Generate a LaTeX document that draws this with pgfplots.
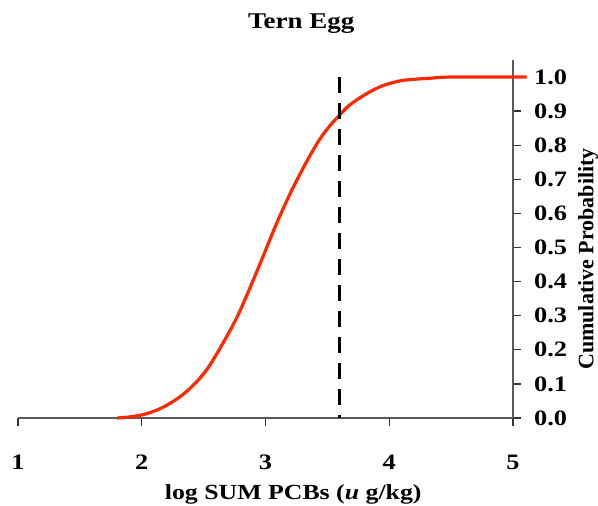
\documentclass[border=0pt]{standalone}
\usepackage{pgfplots}
\pgfplotsset{compat=1.18}
\usepackage{fontspec}
\setmainfont{Liberation Serif}[FakeStretch=1.2]
\newfontfamily\ylabfont{Liberation Serif}
\definecolor{cdfred}{RGB}{255,40,0}
\definecolor{axgray}{RGB}{90,90,90}
\begin{document}
\begin{tikzpicture}
\useasboundingbox (0,0) rectangle (598pt,506pt);
\begin{axis}[
  at={(18pt,88pt)}, anchor=south west,
  scale only axis, width=495pt, height=358pt,
  xmin=1, xmax=5, ymin=0, ymax=1.05,
  clip=false,
  axis x line*=bottom, axis y line*=right,
  axis line style={axgray, line width=1.3pt},
  every tick/.style={black!80, line width=1.3pt},
  major tick length=8pt,
  tick align=outside,
  xtick={1,2,3,4,5},
  ytick={0,0.1,0.2,0.3,0.4,0.5,0.6,0.7,0.8,0.9,1.0},
  /pgf/number format/assume math mode=true,
  xticklabel style={font=\fontsize{22}{26}\selectfont\bfseries, anchor=center, yshift=-36pt},
  yticklabel style={font=\fontsize{22}{26}\selectfont\bfseries, anchor=west, inner sep=0pt, xshift=13pt,
    /pgf/number format/fixed, /pgf/number format/fixed zerofill, /pgf/number format/precision=1},
  title={Tern Egg},
  title style={font=\fontsize{22.5}{26}\selectfont\bfseries, at={(axis description cs:0.572,1.086)}, anchor=center},
  xlabel={log SUM PCBs (\textit{u} g/kg)},
  xlabel style={font=\fontsize{21.5}{25}\selectfont\bfseries, at={(axis description cs:0.556,-0.214)}, anchor=center},
  ylabel={Cumulative Probability},
  ylabel style={font=\fontsize{22}{26}\ylabfont\bfseries, at={(axis description cs:1.152,0.444)}, anchor=center, rotate=0},
]
\addplot[cdfred, line width=3.2pt, smooth, tension=0.55] coordinates {
(1.8,0) (1.9,0.003) (2.0,0.009) (2.1,0.02) (2.2,0.037) (2.3,0.06) (2.39,0.087)
(2.47,0.117) (2.55,0.155) (2.66,0.222) (2.77,0.296) (2.87,0.378) (2.98,0.474)
(3.09,0.571) (3.20,0.659) (3.31,0.737) (3.39,0.789) (3.45,0.824) (3.52,0.857) (3.6,0.889) (3.68,0.918)
(3.82,0.952) (3.95,0.975) (4.09,0.989) (4.22,0.994) (4.35,0.997) (4.5,1.0) (5.11,1.0)
};
\addplot[black, line width=3pt, dash pattern=on 16pt off 10pt] coordinates {(3.6,1.0) (3.6,0)};
\end{axis}
\end{tikzpicture}
\end{document}
